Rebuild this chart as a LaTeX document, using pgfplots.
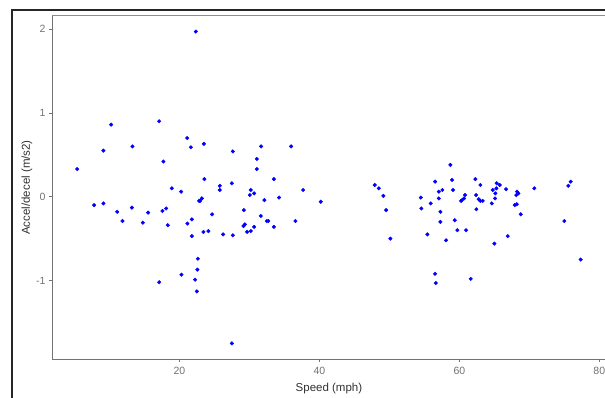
\documentclass[border=0pt]{standalone}
\usepackage{pgfplots}
\pgfplotsset{compat=1.18}
\usepackage{fontspec}
\setmainfont{Liberation Sans}
\begin{document}
\begin{tikzpicture}[x=1pt,y=1pt]
\useasboundingbox (0,0) rectangle (605,398);
\clip (0,0) rectangle (605,398);
\fill[white] (0,0) rectangle (605,398);
\begin{axis}[at={(52pt,39pt)}, anchor=south west, scale only axis,
  width=553.9pt, height=343pt,
  xmin=1.79, xmax=80.94, ymin=-1.936, ymax=2.156,
  axis x line*=bottom, axis y line*=left,
  axis line style={-, draw=black!55, line width=0.9pt},
  xtick={20,40,60,80}, ytick={-1,0,1,2},
  tick style={draw=black!55, line width=0.6pt},
  tick align=outside, major tick length=3pt,
  tick label style={font=\fontsize{10.5}{10.5}\selectfont, text=black!55},
  xticklabel style={yshift=-2pt},
  /pgf/number format/assume math mode=true,
  xlabel={Speed (mph)}, ylabel={Accel/decel (m/s2)},
  label style={font=\fontsize{11.5}{12}\selectfont, text=black!80},
  xlabel style={yshift=-1pt},
  ylabel style={yshift=-3pt},
  clip=false]
\addplot[only marks, mark=*, mark size=1.8pt, mark options={draw=blue, fill=blue}] table {
x y
5.39 0.33
9.14 0.55
13.29 0.60
17.71 0.42
21.10 0.70
21.63 0.59
18.91 0.10
20.24 0.06
22.81 -0.05
7.81 -0.10
9.14 -0.08
11.10 -0.18
11.86 -0.29
13.20 -0.13
15.53 -0.19
14.77 -0.31
17.57 -0.17
18.10 -0.14
18.34 -0.34
21.14 -0.32
21.77 -0.27
21.77 -0.47
22.63 -0.74
10.24 0.86
17.10 0.90
22.34 1.97
17.10 -1.02
20.29 -0.93
22.24 -0.99
22.49 -1.13
22.57 -0.87
23.49 0.63
31.67 0.60
35.96 0.60
27.63 0.54
31.06 0.45
31.06 0.33
23.57 0.21
27.49 0.16
33.49 0.21
25.77 0.13
25.77 0.08
30.20 0.08
30.06 0.02
30.67 0.04
37.67 0.08
23.20 -0.02
22.96 -0.05
32.14 -0.04
34.24 -0.01
40.20 -0.06
29.20 -0.16
24.67 -0.21
31.63 -0.23
32.49 -0.29
32.71 -0.29
36.57 -0.29
29.14 -0.35
29.34 -0.33
30.67 -0.36
33.49 -0.36
23.43 -0.42
24.14 -0.41
26.24 -0.45
27.63 -0.46
29.67 -0.42
30.20 -0.41
27.49 -1.75
47.91 0.14
48.49 0.10
49.14 0.01
49.53 -0.16
50.14 -0.50
58.71 0.38
56.53 0.18
58.96 0.20
62.29 0.21
63.00 0.14
65.34 0.16
65.77 0.14
65.29 0.10
64.77 0.08
65.14 0.04
66.67 0.09
70.71 0.10
75.91 0.18
75.57 0.13
57.06 0.06
57.57 0.08
59.10 0.08
54.49 -0.01
57.06 -0.02
60.81 0.02
60.67 -0.02
60.39 -0.04
60.24 -0.05
62.39 0.02
62.77 -0.03
63.00 -0.05
63.34 -0.05
65.10 -0.02
64.63 -0.08
68.24 0.06
68.43 0.04
68.14 0.02
67.91 -0.10
68.20 -0.09
54.57 -0.14
55.91 -0.08
62.43 -0.15
57.29 -0.18
68.77 -0.21
57.29 -0.30
59.34 -0.28
59.71 -0.40
60.96 -0.40
55.43 -0.45
58.10 -0.52
66.91 -0.47
65.00 -0.56
75.00 -0.29
77.34 -0.75
56.53 -0.92
56.63 -1.03
61.63 -0.98
};
\end{axis}
\draw[black!45, line width=0.9pt] (52,382.5) -- (605,382.5);
\draw[black!85, line width=2pt] (12,0) -- (12,388) -- (605,388);
\end{tikzpicture}
\end{document}
